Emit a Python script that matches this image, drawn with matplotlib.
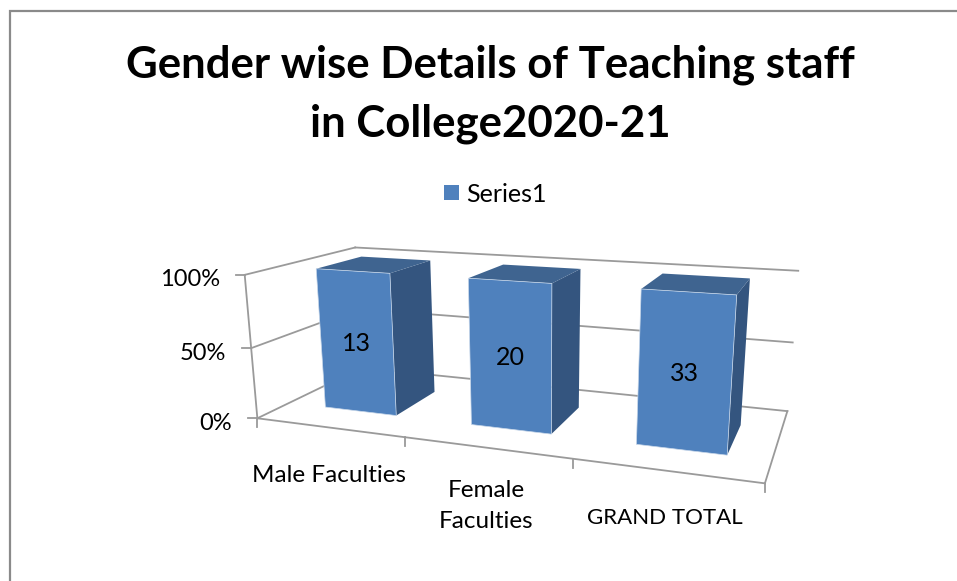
import numpy as np
import matplotlib
matplotlib.use("Agg")
import matplotlib.pyplot as plt
from matplotlib.patches import Polygon, Rectangle

# ---- data ----
title = "Gender wise Details of Teaching staff\nin College2020-21"
categories = ["Male Faculties", "Female\nFaculties", "GRAND TOTAL"]
values = [13, 20, 33]
series_name = "Series1"
axis_ticks = [0, 50, 100]
axis_labels = ["0%", "50%", "100%"]

# ---- the chart's perspective scale: (category, depth, percent) -> pixel, fitted to the frame ----
anchors_3d = np.array([
    [0, 0, 0], [0, 0, 50], [0, 0, 100], [0, 1, 100], [0, 1, 0],
    [1, 0, 0], [2, 0, 0], [3, 0, 0], [3, 1, 0], [3, 1, 50], [3, 1, 100],
], float)
anchors_px = np.array([
    [257.3, 418.3], [251, 348], [245, 275], [355, 247.3], [362, 368],
    [405, 437], [572.7, 459], [765, 483.3], [787.3, 411], [792.7, 342.3], [798.3, 271],
], float)


def fit_camera(p3, p2):
    rows, rhs = [], []
    for (X, Y, Z), (u, v) in zip(p3, p2):
        rows.append([X, Y, Z, 1, 0, 0, 0, 0, -u * X, -u * Y, -u * Z])
        rhs.append(u)
        rows.append([0, 0, 0, 0, X, Y, Z, 1, -v * X, -v * Y, -v * Z])
        rhs.append(v)
    m = np.linalg.lstsq(np.array(rows), np.array(rhs), rcond=None)[0]
    return np.append(m, 1).reshape(3, 4)


CAM = fit_camera(anchors_3d, anchors_px)


def project(x, d, z):
    h = CAM @ np.array([x, d, z, 1.0])
    return h[0] / h[2], h[1] / h[2]


GREY = "#9a9a9a"
BLUE = "#4f81bd"
SIDE = "#34557f"
TOP = "#3f6490"
BAR_LEFT, BAR_RIGHT = 0.265, 0.765
D0, D1 = 0.27, 0.70
BODY = ["Lato", "DejaVu Sans"]

fig = plt.figure(figsize=(9.57, 5.81), dpi=100)
ax = fig.add_axes([0, 0, 1, 1])
ax.set_xlim(0, 957)
ax.set_ylim(581, 0)
ax.axis("off")

# chart frame, cut off by the picture on the right and at the bottom
ax.plot([10, 10, 957], [581, 11, 11], color="#8a8a8a", lw=1.6, solid_joinstyle="miter")

ax.text(490, 94, title, ha="center", va="center", fontsize=31.5, fontweight="bold",
        family=BODY, color="black", linespacing=1.56)

# legend
ax.add_patch(Rectangle((444, 185), 15, 14.5, fc=BLUE, ec="none"))
ax.text(466, 194, series_name, ha="left", va="center", fontsize=18, family=BODY)


def seg(a, b, **kw):
    pa, pb = project(*a), project(*b)
    ax.plot([pa[0], pb[0]], [pa[1], pb[1]], color=GREY, lw=1.3, zorder=1, **kw)


# walls and floor
for z in axis_ticks:
    seg((0, 0, z), (0, 1, z))
    seg((0, 1, z), (3, 1, z))
seg((0, 0, 0), (0, 0, 100))
seg((0, 0, 0), (3, 0, 0))
seg((3, 0, 0), (3, 1, 0))

# ticks and tick labels
for z, lab in zip(axis_ticks, axis_labels):
    px, py = project(0, 0, z)
    ax.plot([px - 9, px], [py, py], color=GREY, lw=1.3, zorder=1)
    ax.text(px - 25, py + 5, lab, ha="right", va="center", fontsize=17, family=BODY)
for i in range(len(categories) + 1):
    px, py = project(i, 0, 0)
    ax.plot([px, px], [py, py + 9], color=GREY, lw=1.3, zorder=1)

label_pos = [(329, 475), (486, 506), (665, 518)]
label_size = [17.5, 17.5, 16]
for cat, (lx, ly), fs in zip(categories, label_pos, label_size):
    ax.text(lx, ly, cat, ha="center", va="center", fontsize=fs, family=BODY,
            linespacing=1.62)

# bars: every category is 100% of itself in this percent-stacked chart
for i, v in enumerate(values):
    pct = 100.0 * v / v
    x0, x1 = i + BAR_LEFT, i + BAR_RIGHT
    front = [project(x0, D0, 0), project(x1, D0, 0), project(x1, D0, pct), project(x0, D0, pct)]
    side = [project(x1, D0, 0), project(x1, D1, 0), project(x1, D1, pct), project(x1, D0, pct)]
    top = [project(x0, D0, pct), project(x1, D0, pct), project(x1, D1, pct), project(x0, D1, pct)]
    ax.add_patch(Polygon(side, closed=True, fc=SIDE, ec="none", zorder=2))
    ax.add_patch(Polygon(top, closed=True, fc=TOP, ec="none", zorder=2))
    ax.add_patch(Polygon(front, closed=True, fc=BLUE, ec="#c9d8ea", lw=0.5, zorder=3))
    cx, cy = project((x0 + x1) / 2, D0, pct / 2)
    ax.text(cx, cy + 1, str(v), ha="center", va="center", fontsize=18, family=BODY,
            color="black", zorder=4)

fig.savefig("out.png", dpi=100)
